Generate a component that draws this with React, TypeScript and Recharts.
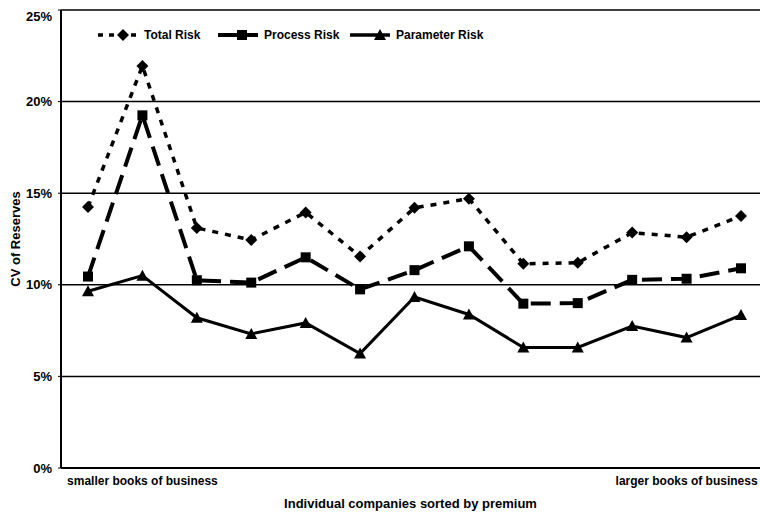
import {
  CartesianGrid,
  Label,
  Legend,
  Line,
  LineChart,
  XAxis,
  YAxis,
} from "recharts";

const companies = ["c1", "c2", "c3", "c4", "c5", "c6", "c7", "c8", "c9", "c10", "c11", "c12", "c13"];
const tickLabels = ["", "smaller books of business", "", "", "", "", "", "", "", "", "", "larger books of business", ""];
const totalRisk = [14.25, 21.95, 13.1, 12.45, 13.95, 11.55, 14.2, 14.7, 11.15, 11.2, 12.85, 12.6, 13.75];
const processRisk = [10.45, 19.25, 10.25, 10.12, 11.5, 9.75, 10.8, 12.1, 8.97, 9.0, 10.27, 10.33, 10.9];
const parameterRisk = [9.65, 10.5, 8.2, 7.32, 7.92, 6.25, 9.33, 8.38, 6.58, 6.58, 7.75, 7.12, 8.35];
const yTicks = [0, 5, 10, 15, 20, 25];

const data = companies.map((name, i) => ({
  name,
  total: totalRisk[i],
  process: processRisk[i],
  parameter: parameterRisk[i],
}));

const FONT = "'Liberation Sans', Arial, sans-serif";

const Diamond = (props: any) => {
  const { cx, cy, index } = props;
  if (cx == null || cy == null) return <g key={`d${index}`} />;
  return (
    <polygon
      key={`d${index}`}
      points={`${cx},${cy - 6} ${cx + 6},${cy} ${cx},${cy + 6} ${cx - 6},${cy}`}
      fill="#000"
    />
  );
};

const Square = (props: any) => {
  const { cx, cy, index } = props;
  if (cx == null || cy == null) return <g key={`s${index}`} />;
  return <rect key={`s${index}`} x={cx - 5} y={cy - 5} width={10} height={10} fill="#000" />;
};

const Triangle = (props: any) => {
  const { cx, cy, index } = props;
  if (cx == null || cy == null) return <g key={`t${index}`} />;
  return (
    <polygon
      key={`t${index}`}
      points={`${cx},${cy - 6} ${cx + 6},${cy + 5} ${cx - 6},${cy + 5}`}
      fill="#000"
    />
  );
};

const legendItems = [
  { label: "Total Risk", dash: "5 6", width: 3.5, marker: "diamond", itemWidth: 120 },
  { label: "Process Risk", dash: "", width: 4, marker: "square", itemWidth: 132 },
  { label: "Parameter Risk", dash: "", width: 3.5, marker: "triangle", itemWidth: 160 },
];

function LegendContent() {
  return (
    <div style={{ display: "flex", fontFamily: FONT, fontWeight: "bold", fontSize: 12, color: "#000" }}>
      {legendItems.map((it) => (
        <div key={it.label} style={{ display: "flex", alignItems: "center", width: it.itemWidth }}>
          <svg width={40} height={14} style={{ marginRight: 6 }}>
            <line x1={0} y1={7} x2={40} y2={7} stroke="#000" strokeWidth={it.width} strokeDasharray={it.dash || undefined} />
            {it.marker === "diamond" && <polygon points="25,1 31,7 25,13 19,7" fill="#000" />}
            {it.marker === "square" && <rect x={19} y={2} width={10} height={10} fill="#000" />}
            {it.marker === "triangle" && <polygon points="30,1 36,12 24,12" fill="#000" />}
          </svg>
          <span>{it.label}</span>
        </div>
      ))}
    </div>
  );
}

export default function App() {
  return (
    <div style={{ position: "fixed", left: 0, top: 0, width: 760, height: 513, overflow: "hidden", background: "#fff" }}>
      <div style={{ position: "absolute", left: 8, top: 8 }}>
        <LineChart
          width={760}
          height={505}
          data={data}
          margin={{ top: 2, right: 0, left: 0, bottom: 0 }}
          style={{ fontFamily: FONT }}
        >
          <CartesianGrid vertical={false} stroke="#000" strokeWidth={1.5} />
          <XAxis
            dataKey="name"
            interval={0}
            height={45}
            padding={{ left: 27, right: 27 }}
            tickLine={false}
            axisLine={{ stroke: "#000", strokeWidth: 2 }}
            tickFormatter={(_v: string, i: number) => tickLabels[i]}
            tick={{ fill: "#000", fontSize: 12, fontWeight: "bold", fontFamily: FONT }}
          >
            <Label
              content={(props: any) => {
                const vb = props.viewBox;
                return (
                  <text
                    x={vb.x + vb.width / 2 - 4}
                    y={vb.y + 40}
                    textAnchor="middle"
                    fontFamily={FONT}
                    fontWeight="bold"
                    fontSize={13}
                    fill="#000"
                  >
                    Individual companies sorted by premium
                  </text>
                );
              }}
            />
          </XAxis>
          <YAxis
            width={53}
            domain={[0, 25]}
            ticks={yTicks}
            tickSize={3}
            tickMargin={6}
            tickFormatter={(v: number) => `${v}%`}
            axisLine={{ stroke: "#000", strokeWidth: 2 }}
            tickLine={{ stroke: "#000" }}
            tick={{ fill: "#000", fontSize: 13, fontWeight: "bold", fontFamily: FONT }}
          >
            <Label
              content={(props: any) => {
                const vb = props.viewBox;
                const cy = vb.y + vb.height / 2;
                return (
                  <text
                    x={12}
                    y={cy}
                    transform={`rotate(-90 12 ${cy})`}
                    textAnchor="middle"
                    fontFamily={FONT}
                    fontWeight="bold"
                    fontSize={13}
                    fill="#000"
                  >
                    CV of Reserves
                  </text>
                );
              }}
            />
          </YAxis>
          <Legend
            layout="horizontal"
            verticalAlign="middle"
            align="center"
            content={() => <LegendContent />}
            wrapperStyle={{ top: 20, left: 90, width: 460 }}
          />
          <Line
            type="linear"
            dataKey="total"
            stroke="#000"
            strokeWidth={3.5}
            strokeDasharray="6 7"
            dot={Diamond}
            isAnimationActive={false}
          />
          <Line
            type="linear"
            dataKey="process"
            stroke="#000"
            strokeWidth={4}
            strokeDasharray="20 9"
            dot={Square}
            isAnimationActive={false}
          />
          <Line
            type="linear"
            dataKey="parameter"
            stroke="#000"
            strokeWidth={3}
            dot={Triangle}
            isAnimationActive={false}
          />
        </LineChart>
      </div>
    </div>
  );
}
